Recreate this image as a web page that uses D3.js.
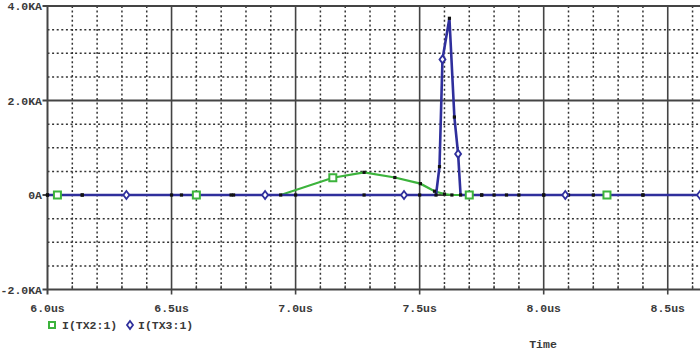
<!DOCTYPE html>
<html><head><meta charset="utf-8">
<script src="https://cdn.jsdelivr.net/npm/d3@7"></script>
<style>body{margin:0;background:#fff}svg{display:block}text{font-family:"Liberation Mono",monospace;font-weight:bold;fill:#3a3a3a}</style>
</head><body><svg id="c" width="700" height="350"></svg>
<script>
// data
const seriesNames = ["I(TX2:1)", "I(TX3:1)"];
const tx2Time = [6.0,6.04,6.14,6.32,6.5,6.6,6.75,6.94,7.15,7.276,7.4,7.503,7.56,7.6,7.63,7.7,7.75,7.8,7.9,8.0,8.1,8.255,8.4,8.63];
const tx2Val  = [0,0,0,0,0,0,0,0,0.365,0.48,0.37,0.24,0.08,0.02,0,0,0,0,0,0,0,0,0,0];
const tx2Markers = [6.04,6.6,7.15,7.7,8.255];
const tx3Time = [6.0,6.14,6.318,6.54,6.74,6.877,7.0,7.276,7.437,7.5,7.566,7.58,7.592,7.62,7.64,7.655,7.665,7.7,7.75,7.85,8.0,8.087,8.2,8.4,8.63];
const tx3Val  = [0,0,0,0,0,0,0,0,0,0,0,0.6,2.87,3.74,1.65,0.87,0,0,0,0,0,0,0,0,0];
const tx3Markers = [6.318,6.877,7.437,7.592,7.655,8.087,8.63];
const xMajor = [6.0,6.5,7.0,7.5,8.0,8.5];
const xLabels = ["6.0us","6.5us","7.0us","7.5us","8.0us","8.5us"];
const yMajor = [4,2,0,-2];
const yLabels = ["4.0KA","2.0KA","0A","-2.0KA"];

const svg = d3.select("#c");
const x = d3.scaleLinear().domain([6.0, 8.63]).range([47.5, 700]);
const y = d3.scaleLinear().domain([-2, 4]).range([289.5, 6]);
const green = "#3cb33c", blue = "#2f2f9c";

const minorX = d3.range(6.1, 8.63, 0.1).filter(v => Math.abs(v*2 - Math.round(v*2)) > 0.01);
const minorY = d3.range(-1.5, 4, 0.5).filter(v => Math.abs(v/2 - Math.round(v/2)) > 0.01);
const g = svg.append("g");
g.selectAll(".mx").data(minorX).join("line").attr("x1", d=>x(d)).attr("x2", d=>x(d))
  .attr("y1", y(4)).attr("y2", y(-2)).attr("stroke","#333").attr("stroke-width",1.5).attr("stroke-dasharray","2,2.6");
g.selectAll(".my").data(minorY).join("line").attr("y1", d=>y(d)).attr("y2", d=>y(d))
  .attr("x1", x(6)).attr("x2", 700).attr("stroke","#333").attr("stroke-width",1.5).attr("stroke-dasharray","2,2.6");
g.selectAll(".Mx").data(xMajor.slice(1)).join("line").attr("x1", d=>x(d)).attr("x2", d=>x(d))
  .attr("y1", y(4)).attr("y2", y(-2)+5).attr("stroke","#444").attr("stroke-width",1.6);
g.selectAll(".My").data(yMajor).join("line").attr("y1", d=>y(d)).attr("y2", d=>y(d))
  .attr("x1", x(6)-5).attr("x2", 700).attr("stroke","#444").attr("stroke-width",1.8);
// minor ticks on bottom axis
g.selectAll(".tk").data(minorX).join("line").attr("x1", d=>x(d)).attr("x2", d=>x(d))
  .attr("y1", y(-2)-4).attr("y2", y(-2)).attr("stroke","#444").attr("stroke-width",1.2);
g.append("line").attr("x1", x(6)).attr("x2", x(6)).attr("y1", y(4)).attr("y2", y(-2)+5).attr("stroke","#444").attr("stroke-width",2);

// labels
svg.selectAll(".yl").data(yMajor).join("text").attr("x", 42).attr("y", d=>y(d)+4)
  .attr("text-anchor","end").attr("font-size","11.5px").text((d,i)=>yLabels[i]);
svg.selectAll(".xl").data(xMajor).join("text").attr("x", d=>x(d)).attr("y", 312)
  .attr("text-anchor","middle").attr("font-size","11.5px").text((d,i)=>xLabels[i]);
svg.append("text").attr("x", 543).attr("y", 348).attr("text-anchor","middle").attr("font-size","11.5px").text("Time");

const line = d3.line().x(d=>x(d[0])).y(d=>y(d[1]));
const d2 = tx2Time.map((t,i)=>[t,tx2Val[i]]);
const d3s = tx3Time.map((t,i)=>[t,tx3Val[i]]);
svg.append("path").attr("d", line(d2)).attr("fill","none").attr("stroke",green).attr("stroke-width",2.2);
svg.append("path").attr("d", line(d3s)).attr("fill","none").attr("stroke",blue).attr("stroke-width",2.6);

// data point dots
const dots = d2.filter(p=>!tx2Markers.includes(p[0])).concat(d3s.filter(p=>!tx3Markers.includes(p[0])));
svg.selectAll(".dot").data(dots).join("rect").attr("x", d=>x(d[0])-1.6).attr("y", d=>y(d[1])-1.6)
  .attr("width",3.2).attr("height",3.2).attr("fill","#111");

// markers
const val2 = t => tx2Val[tx2Time.indexOf(t)];
const val3 = t => tx3Val[tx3Time.indexOf(t)];
svg.selectAll(".sq").data(tx2Markers).join("rect").attr("x", d=>x(d)-3.5).attr("y", d=>y(val2(d))-3.5)
  .attr("width",7).attr("height",7).attr("fill","#fff").attr("stroke",green).attr("stroke-width",2);
const diamond = (cx,cy) => `M${cx},${cy-4}L${cx+3},${cy}L${cx},${cy+4}L${cx-3},${cy}Z`;
svg.selectAll(".dm").data(tx3Markers).join("path").attr("d", d=>diamond(x(d), y(val3(d))))
  .attr("fill","#fff").attr("stroke",blue).attr("stroke-width",1.8);

// legend
svg.append("rect").attr("x",49).attr("y",322).attr("width",6).attr("height",6).attr("fill","#fff").attr("stroke",green).attr("stroke-width",2);
svg.append("text").attr("x",62).attr("y",329).attr("font-size","11.5px").text(seriesNames[0]);
svg.append("path").attr("d", diamond(130,325)).attr("fill","#fff").attr("stroke",blue).attr("stroke-width",1.8);
svg.append("text").attr("x",138).attr("y",329).attr("font-size","11.5px").text(seriesNames[1]);
</script></body></html>
